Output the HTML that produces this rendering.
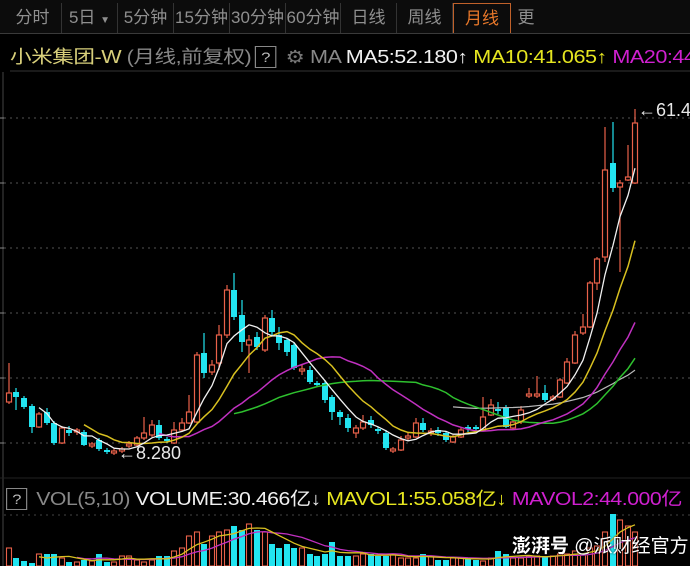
<!DOCTYPE html>
<html><head><meta charset="utf-8"><style>
html,body{margin:0;padding:0;background:#000;width:690px;height:566px;overflow:hidden}
body{font-family:"Liberation Sans","Noto Sans CJK SC",sans-serif;position:relative}
.tabs{position:absolute;left:0;top:0;width:690px;height:33px;background:#0c0c0c;border-bottom:1px solid #3a3a3a}
.tab{position:absolute;top:3px;height:30px;line-height:29px;text-align:center;color:#8f8f8f;font-size:17px;border-right:1px solid #333;box-sizing:border-box;white-space:nowrap}
.act{color:#e8782a;border:1px solid #c0612a;border-bottom:none}
.clip{position:absolute;left:0;width:690px;height:30px;overflow:hidden}
.leg{position:absolute;left:10px;top:1px;font-size:18px;white-space:nowrap;letter-spacing:-0.4px;transform:scaleX(1.2);transform-origin:0 0}
.vleg{position:absolute;left:6px;top:1px;font-size:18px;white-space:nowrap;letter-spacing:-0.4px;transform:scaleX(1.18);transform-origin:0 0}
.q{display:inline-block;border:1px solid #888;color:#bbb;width:16px;height:20px;line-height:20px;text-align:center;font-size:14px;margin:0 3px;vertical-align:1px}
svg{position:absolute;left:0;top:0}
.wm{position:absolute;left:512px;top:531px;color:#fff;font-size:19px;font-weight:bold;white-space:nowrap;text-shadow:0 0 2px #000}
</style></head><body>
<div class="tabs">
<div class="tab" style="left:4px;width:58px">分时</div>
<div class="tab" style="left:62px;width:56px">5日 <span style="font-size:10px">▼</span></div>
<div class="tab" style="left:118px;width:56px">5分钟</div>
<div class="tab" style="left:174px;width:56px">15分钟</div>
<div class="tab" style="left:230px;width:56px">30分钟</div>
<div class="tab" style="left:286px;width:55px">60分钟</div>
<div class="tab" style="left:341px;width:56px">日线</div>
<div class="tab" style="left:397px;width:56px">周线</div>
<div class="tab act" style="left:453px;width:58px">月线</div>
<div class="tab" style="left:511px;width:30px;border:none">更</div>
</div>
<div class="clip" style="top:42px"><div class="leg"><span style="color:#d8cf7a">小米集团-W</span> <span style="color:#888">(月线,前复权)</span><span class="q">?</span> <span style="color:#777">⚙</span> <span style="color:#888">MA</span> <span style="color:#f0f0f0">MA5:52.180↑</span> <span style="color:#e6e620">MA10:41.065↑</span> <span style="color:#d020d0">MA20:44.000</span></div></div>
<div class="clip" style="top:484px"><div class="vleg"><span class="q" style="margin-left:0">?</span> <span style="color:#888">VOL(5,10)</span> <span style="color:#f0f0f0">VOLUME:30.466亿↓</span> <span style="color:#e6e620">MAVOL1:55.058亿↓</span> <span style="color:#d020d0">MAVOL2:44.000亿</span></div></div>
<svg id="s" width="690" height="566" xmlns="http://www.w3.org/2000/svg"></svg>
<div class="wm">澎湃号 <span style="font-weight:normal">@派财经官方</span></div>
<script>
var S=document.getElementById('s'),h='';
h+='<line x1="10" y1="71" x2="690" y2="71" stroke="#333"/>';
h+='<line x1="3" y1="72" x2="3" y2="566" stroke="#444"/>';
[118,183,248,313,378,443].forEach(function(y){h+='<line x1="4" y1="'+y+'" x2="690" y2="'+y+'" stroke="#555" stroke-dasharray="2,4"/><line x1="0" y1="'+y+'" x2="4" y2="'+y+'" stroke="#888"/>';});
h+='<line x1="4" y1="515" x2="690" y2="515" stroke="#444" stroke-dasharray="2,4"/>';
h+='<line x1="0" y1="478" x2="690" y2="478" stroke="#222"/>';
var C=[[9,393,402,363,404,1],[16,392,397,388,410,0],[24,398,407,396,409,0],[32,406,427,404,433,0],[39,414,427,412,428,1],[47,412,423,408,425,0],[54,423,443,421,445,0],[62,428,443,426,444,1],[69,430,433,426,436,0],[77,430,432,428,435,1],[84,432,445,430,446,0],[92,444,446,442,448,1],[99,440,449,438,451,0],[107,450,452,448,454,0],[114,451,453,449,455,1],[122,449,451,447,453,1],[129,444,446,441,448,1],[137,438,445,436,446,1],[144,433,438,417,440,1],[152,425,435,420,437,1],[159,425,438,420,440,0],[167,439,441,437,443,0],[174,430,443,422,444,1],[182,423,430,418,432,1],[189,412,423,395,424,1],[197,355,422,352,423,1],[204,353,373,333,378,0],[212,365,372,360,375,1],[219,335,363,325,370,1],[227,290,335,285,338,1],[234,290,317,273,320,0],[242,315,342,300,352,0],[249,340,345,335,373,1],[257,337,347,332,350,0],[265,318,350,315,352,1],[272,318,332,310,335,0],[279,335,343,327,350,0],[287,340,352,338,356,0],[294,345,368,342,370,0],[302,369,371,365,375,1],[310,370,382,366,384,0],[317,383,385,381,387,0],[325,383,400,380,403,0],[332,397,412,395,420,0],[340,412,417,410,425,0],[348,418,428,414,432,0],[356,428,433,425,438,1],[363,422,428,415,430,1],[371,420,425,416,428,0],[378,429,431,427,434,0],[386,433,448,430,450,0],[393,449,451,447,453,1],[401,440,450,436,451,1],[408,436,438,432,440,1],[416,423,437,418,438,1],[423,423,430,418,432,0],[431,431,433,428,436,1],[438,430,433,427,436,0],[446,433,440,431,442,0],[453,437,442,435,443,1],[461,430,437,427,438,1],[468,427,429,425,432,0],[476,427,429,425,431,0],[483,417,430,397,431,1],[491,405,415,399,416,1],[498,409,411,402,414,0],[506,407,427,405,428,0],[513,422,428,420,429,1],[521,410,422,406,424,1],[529,394,396,388,398,1],[537,394,396,376,398,1],[545,393,400,385,402,0],[553,397,399,395,401,1],[560,380,397,378,398,1],[567,362,383,358,384,1],[575,335,363,331,364,1],[583,327,333,314,335,1],[590,283,327,281,328,1],[597,259,283,257,290,1],[605,170,257,127,262,1],[613,163,188,122,192,0],[620,183,187,180,272,1],[628,177,180,145,181,1],[635,123,183,109,184,1]];
var RED='#e8614a',CY='#22e4f0';
var closes=C.map(function(c){return c[5]?c[1]:c[2];});
function ma(n,col,start,w){var p='';for(var i=0;i<C.length;i++){if(i<start)continue;var lo=Math.max(0,i-n+1),s=0;for(var j=lo;j<=i;j++)s+=closes[j];var y=s/(i-lo+1);p+=(p?'L':'M')+C[i][0]+','+y.toFixed(1);}h+='<path d="'+p+'" fill="none" stroke="'+col+'" stroke-width="'+(w||1.3)+'"/>';}
C.forEach(function(c){var col=c[5]?RED:CY;h+='<line x1="'+c[0]+'" y1="'+c[3]+'" x2="'+c[0]+'" y2="'+c[4]+'" stroke="'+col+'" stroke-width="1.2"/>';var hh=Math.max(c[2]-c[1],2);if(c[5])h+='<rect x="'+(c[0]-2.5)+'" y="'+c[1]+'" width="5" height="'+hh+'" fill="#000" stroke="'+col+'" stroke-width="1.2"/>';else h+='<rect x="'+(c[0]-3)+'" y="'+c[1]+'" width="6" height="'+hh+'" fill="'+col+'"/>';});
ma(60,'#b8b8b8',59,1.2);ma(30,'#2ec02e',30,1.5);ma(20,'#c030c0',20,1.5);ma(10,'#d8c020',10,1.5);ma(5,'#f0f0f0',4,1.3);
h+='<text x="118" y="459" fill="#e8e8e8" font-size="18" font-family="Liberation Sans">←8.280</text>';
h+='<text x="638" y="116" fill="#e8e8e8" font-size="18" font-family="Liberation Sans">←61.4</text>';
var V=[18,8,5,3,12,12,12,8,4,4,6,5,12,4,4,10,10,6,4,6,10,10,15,18,30,34,22,30,34,36,40,36,42,36,34,22,18,22,18,18,12,10,12,24,10,10,10,12,12,10,10,12,8,8,8,12,10,6,6,8,8,8,6,5,8,15,12,8,8,10,10,10,10,12,12,15,12,18,20,34,52,46,40,34];
var vp1='',vp2='';
C.forEach(function(c,i){var v=V[i]||5,y=566-v,col=c[5]?RED:CY;if(c[5])h+='<rect x="'+(c[0]-2.5)+'" y="'+y+'" width="5" height="'+v+'" fill="none" stroke="'+col+'" stroke-width="1.1"/>';else h+='<rect x="'+(c[0]-3)+'" y="'+y+'" width="6" height="'+v+'" fill="'+col+'"/>';
function m(n){var lo=Math.max(0,i-n+1),s=0;for(var j=lo;j<=i;j++)s+=V[j];return 566-s/(i-lo+1);}
if(i>=4)vp1+=(vp1?'L':'M')+c[0]+','+m(5).toFixed(1);if(i>=9)vp2+=(vp2?'L':'M')+c[0]+','+m(10).toFixed(1);});
h+='<path d="'+vp2+'" fill="none" stroke="#c030c0" stroke-width="1.3"/><path d="'+vp1+'" fill="none" stroke="#d8c020" stroke-width="1.3"/>';
S.innerHTML=h;
</script>
</body></html>
